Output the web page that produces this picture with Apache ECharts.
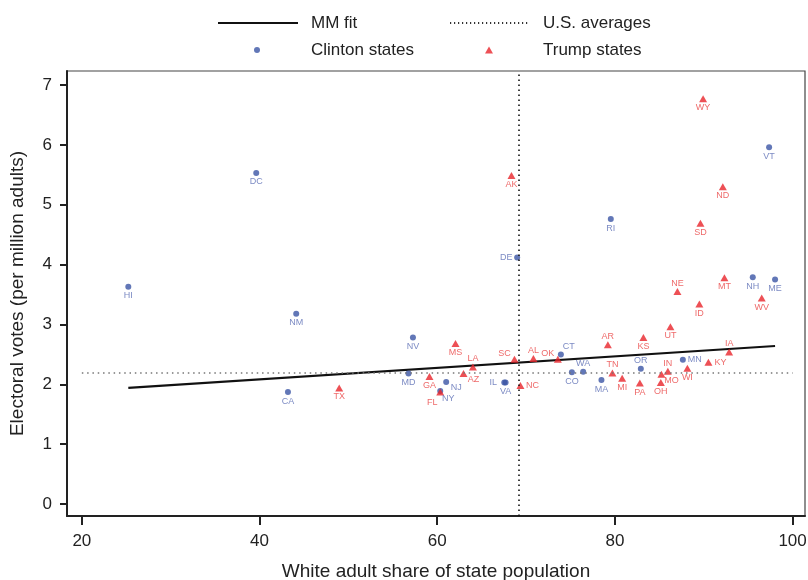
<!DOCTYPE html>
<html>
<head>
<meta charset="utf-8">
<script src="https://cdn.jsdelivr.net/npm/echarts@6/dist/echarts.min.js"></script>
<style>
  html, body { margin: 0; padding: 0; background: #fff; }
  #chart { width: 808px; height: 580px; }
</style>
</head>
<body>
<div id="chart"></div>
<script>
// values
const clintonStates = ['HI', 'DC', 'CA', 'NM', 'NV', 'MD', 'NJ', 'NY', 'IL', 'VA', 'CT', 'CO', 'WA', 'MA', 'OR', 'MN', 'RI', 'NH', 'ME', 'VT', 'DE']
const clintonWhite = [25.23, 39.63, 43.2, 44.13, 57.27, 56.77, 61.01, 60.34, 67.55, 67.7, 73.92, 75.16, 76.43, 78.49, 82.92, 87.65, 79.54, 95.52, 98.03, 97.36, 69.0]
const clintonEV = [3.63, 5.53, 1.87, 3.18, 2.78, 2.18, 2.04, 1.89, 2.03, 2.03, 2.5, 2.2, 2.21, 2.07, 2.26, 2.41, 4.76, 3.79, 3.75, 5.96, 4.12]

const trumpStates = ['MS', 'GA', 'FL', 'LA', 'AZ', 'SC', 'AL', 'OK', 'NC', 'AR', 'KS', 'UT', 'TN', 'MI', 'PA', 'IN', 'MO', 'OH', 'WI', 'KY', 'IA', 'ND', 'SD', 'NE', 'MT', 'ID', 'WV', 'WY', 'AK', 'TX']
const trumpWhite = [62.06, 59.13, 60.34, 64.02, 62.96, 68.7, 70.83, 73.58, 69.37, 79.21, 83.21, 86.25, 79.72, 80.82, 82.81, 85.96, 85.24, 85.17, 88.16, 90.53, 92.86, 92.15, 89.63, 87.04, 92.33, 89.51, 96.53, 89.93, 68.36, 48.97]
const trumpEV = [2.68, 2.13, 1.87, 2.29, 2.18, 2.42, 2.43, 2.42, 1.98, 2.66, 2.78, 2.96, 2.19, 2.1, 2.02, 2.22, 2.17, 2.03, 2.27, 2.37, 2.54, 5.3, 4.69, 3.55, 3.78, 3.34, 3.44, 6.77, 5.49, 1.94]

const fitX = [25.23, 98.03]
const fitY = [1.94, 2.64]
const usWhite = 69.23
const usEV = 2.2
const usLineFrom = 20
const usLineTo = 100

const xTicks = [20, 40, 60, 80, 100]
const yTicks = [0, 1, 2, 3, 4, 5, 6, 7]

// where each state label sits next to its mark
const labelSide = {
  HI: 'b', DC: 'b', CA: 'b', NM: 'b', NV: 'b', MD: 'b', NJ: 'rb', NY: 'br', IL: 'l', VA: 'b',
  CT: 'tr', CO: 'b', WA: 't', MA: 'b', OR: 't', MN: 'r', RI: 'b', NH: 'b', ME: 'b', VT: 'b', DE: 'l',
  MS: 'b', GA: 'b', FL: 'bl', LA: 't', AZ: 'rb', SC: 'tl', AL: 't', OK: 'tl', NC: 'r', AR: 't',
  KS: 'b', UT: 'b', TN: 't', MI: 'b', PA: 'b', IN: 't', MO: 'rb', OH: 'b', WI: 'b', KY: 'r',
  IA: 't', ND: 'b', SD: 'b', NE: 't', MT: 'b', ID: 'b', WV: 'b', WY: 'b', AK: 'b', TX: 'b'
}
const sideOffset = {
  b: [0, 9], t: [0, -8], l: [-11, 0], r: [12, 0],
  br: [8, 8], bl: [-8, 10], tl: [-10, -6], tr: [8, -8], rb: [10, 6]
}

const font = 'Liberation Sans'
const blue = '#3b55a5'
const red = '#e8242a'

const makePoints = (names, xs, ys) => {
  return names.map((s, i) => {
    return {
      name: s,
      value: [xs[i], ys[i]],
      label: { offset: sideOffset[labelSide[s]] },
    }
  })
}

const chart = echarts.init(document.getElementById('chart'))

const legendText = (pad) => {
  return { fontFamily: font, fontSize: 17, color: '#222', lineHeight: 18, padding: [0, 0, 0, pad] }
}

const option = {
  animation: false,
  textStyle: { fontFamily: font },
  legend: [
    { data: ['MM fit'], left: 212, top: 9, itemWidth: 80, itemHeight: 14, selectedMode: false,
      itemStyle: { opacity: 0 }, textStyle: legendText(8) },
    { data: ['U.S. averages'], left: 444, top: 9, itemWidth: 80, itemHeight: 14, selectedMode: false,
      itemStyle: { opacity: 0 }, textStyle: legendText(8) },
    { data: ['Clinton states'], left: 249, top: 36, itemWidth: 6, itemHeight: 6, selectedMode: false,
      textStyle: legendText(46) },
    { data: ['Trump states'], left: 480, top: 36, itemWidth: 8, itemHeight: 7, selectedMode: false,
      textStyle: legendText(45) },
  ],
  grid: {
    left: 67,
    right: 3,
    top: 71,
    bottom: 64,
    outerBoundsMode: 'none',
    show: true,
    borderColor: '#444',
    borderWidth: 1.2,
  },
  xAxis: {
    type: 'value',
    min: 18.33,
    max: 101.4,
    name: 'White adult share of state population',
    nameLocation: 'middle',
    nameGap: 46,
    nameTextStyle: { fontFamily: font, fontSize: 19, color: '#222' },
    axisLine: { show: true, onZero: false, lineStyle: { color: '#222', width: 2 } },
    axisTick: { show: true, length: 9, customValues: xTicks, lineStyle: { color: '#222', width: 2 } },
    axisLabel: { customValues: xTicks, margin: 17, fontSize: 17, color: '#222', fontFamily: font },
    splitLine: { show: false },
  },
  yAxis: {
    type: 'value',
    min: -0.2,
    max: 7.234,
    name: 'Electoral votes (per million adults)',
    nameLocation: 'middle',
    nameGap: 40,
    nameTextStyle: { fontFamily: font, fontSize: 19, color: '#222' },
    axisLine: { show: true, onZero: false, lineStyle: { color: '#222', width: 2 } },
    axisTick: { show: true, length: 7, customValues: yTicks, lineStyle: { color: '#222', width: 2 } },
    axisLabel: { customValues: yTicks, margin: 15, fontSize: 17, color: '#222', fontFamily: font },
    splitLine: { show: false },
  },
  series: [
    {
      name: 'MM fit',
      type: 'line',
      data: fitX.map((x, i) => [x, fitY[i]]),
      symbol: 'none',
      lineStyle: { color: '#111', width: 2.2 },
      itemStyle: { color: '#111' },
      z: 3,
      silent: true,
    },
    {
      name: 'U.S. averages',
      type: 'line',
      data: [],
      symbol: 'none',
      lineStyle: { color: '#333', width: 1.2, type: [1.2, 2.8] },
      itemStyle: { color: '#333' },
      markLine: {
        silent: true,
        symbol: 'none',
        label: { show: false },
        data: [
          [{ coord: [usLineFrom, usEV] }, { coord: [usLineTo, usEV] }],
          { xAxis: usWhite, lineStyle: { color: '#111', width: 1.6, type: [1.6, 3.4] } },
        ],
        lineStyle: { color: '#777', width: 1.5, type: [1.5, 3.8] },
      },
      z: 2,
    },
    {
      name: 'Clinton states',
      type: 'scatter',
      symbol: 'circle',
      symbolSize: 6,
      itemStyle: { color: blue },
      data: makePoints(clintonStates, clintonWhite, clintonEV),
      label: {
        show: true,
        formatter: '{b}',
        position: 'inside',
        align: 'center',
        verticalAlign: 'middle',
        fontSize: 9,
        fontFamily: font,
        color: '#5a6db4',
      },
      emphasis: { disabled: true },
      z: 4,
    },
    {
      name: 'Trump states',
      type: 'scatter',
      symbol: 'triangle',
      symbolSize: [8, 7],
      itemStyle: { color: red },
      data: makePoints(trumpStates, trumpWhite, trumpEV),
      label: {
        show: true,
        formatter: '{b}',
        position: 'inside',
        align: 'center',
        verticalAlign: 'middle',
        fontSize: 9,
        fontFamily: font,
        color: '#ea4444',
      },
      emphasis: { disabled: true },
      z: 4,
    },
  ],
}
chart.setOption(option)
</script>
</body>
</html>
